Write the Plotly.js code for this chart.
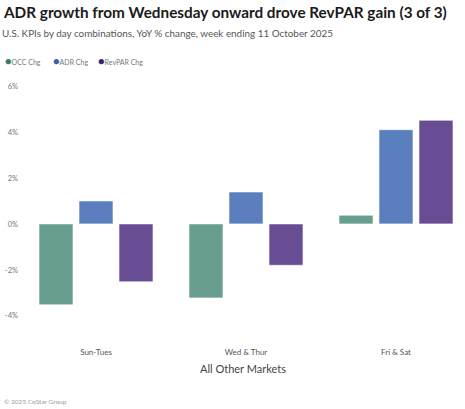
<!DOCTYPE html>
<html>
<head>
<meta charset="utf-8">
<script src="https://cdn.plot.ly/plotly-3.0.1.min.js"></script>
<style>
  html, body { margin: 0; padding: 0; background: #fff; }
  #plot { width: 465px; height: 409px; }
</style>
</head>
<body>
<div id="plot"></div>
<script>
// dados
const categorias = ["Sun-Tues", "Wed & Thur", "Fri & Sat"];
const occChg = [-3.52, -3.22, 0.38];
const adrChg = [1.0, 1.39, 4.1];
const revparChg = [-2.52, -1.8, 4.51];
const nomesSeries = ["OCC Chg", "ADR Chg", "RevPAR Chg"];
const yTicks = [-4, -2, 0, 2, 4, 6];

const coresBarra = ["#679e8f", "#5b7fbe", "#684c94"];
const coresLegenda = ["#3a7a66", "#3d5fae", "#3b2270"];
const fonte = "Lato, 'Open Sans', sans-serif";

const valores = [occChg, adrChg, revparChg];

const data = valores.map((v, i) => ({
    type: 'bar',
    x: categorias,
    y: v,
    name: nomesSeries[i],
    marker: { color: coresBarra[i], line: { color: 'rgba(255,255,255,0.6)', width: 1 } },
    showlegend: false,
    hoverinfo: 'x+y'
}));

// legenda feita com anotações (bolinha + texto), fica mais compacta
const posLegenda = [3, 51, 96];

const layout = {
    width: 465,
    height: 409,
    margin: { l: 21, r: 0, t: 86, b: 69 },
    paper_bgcolor: '#fff',
    plot_bgcolor: '#fff',
    font: { family: fonte, color: '#555' },
    title: {
        text: '<b>ADR growth from Wednesday onward drove RevPAR gain (3 of 3)</b>',
        font: { family: fonte, size: 15.3, color: '#1a1a1a' },
        x: 4 / 465, xref: 'container', xanchor: 'left',
        y: 1 - 13 / 409, yref: 'container', yanchor: 'middle'
    },
    bargap: 0.2,
    bargroupgap: 0.15,
    xaxis: {
        range: [-0.5, 2.46],
        showgrid: false,
        zeroline: false,
        showline: false,
        ticks: '',
        tickfont: { size: 8, color: '#555' },
        ticklabelstandoff: 6,
        title: { text: 'All Other Markets', font: { size: 11, color: '#444' }, standoff: 9 }
    },
    yaxis: {
        range: [-5.05, 6.0],
        tickvals: yTicks,
        ticktext: yTicks.map(t => t + '%'),
        showgrid: false,
        zeroline: false,
        showline: false,
        ticks: '',
        tickfont: { size: 7.5, color: '#777' },
        ticklabelstandoff: 2
    },
    annotations: [
        {
            xref: 'paper', yref: 'paper',
            x: -21 / 444, xanchor: 'left',
            y: 1 + (86 - 33) / 254, yanchor: 'middle',
            text: 'U.S. KPIs by day combinations, YoY % change, week ending 11 October 2025',
            font: { size: 9.9, color: '#555' },
            showarrow: false
        },
        {
            xref: 'paper', yref: 'paper',
            x: -19 / 444, xanchor: 'left',
            y: -(401 - 340) / 254, yanchor: 'middle',
            text: '© 2025 CoStar Group',
            font: { size: 6.5, color: '#999' },
            showarrow: false
        }
    ].concat(nomesSeries.map((n, i) => ({
        xref: 'paper', yref: 'paper',
        x: (posLegenda[i] - 21) / 444, xanchor: 'left',
        y: 1 + (86 - 61) / 254, yanchor: 'middle',
        text: '<span style="color:' + coresLegenda[i] + ';font-size:11px">●</span>' + n,
        font: { size: 7, color: '#777' },
        showarrow: false
    })))
};

Plotly.newPlot('plot', data, layout, { displayModeBar: false, staticPlot: true });
</script>
</body>
</html>
